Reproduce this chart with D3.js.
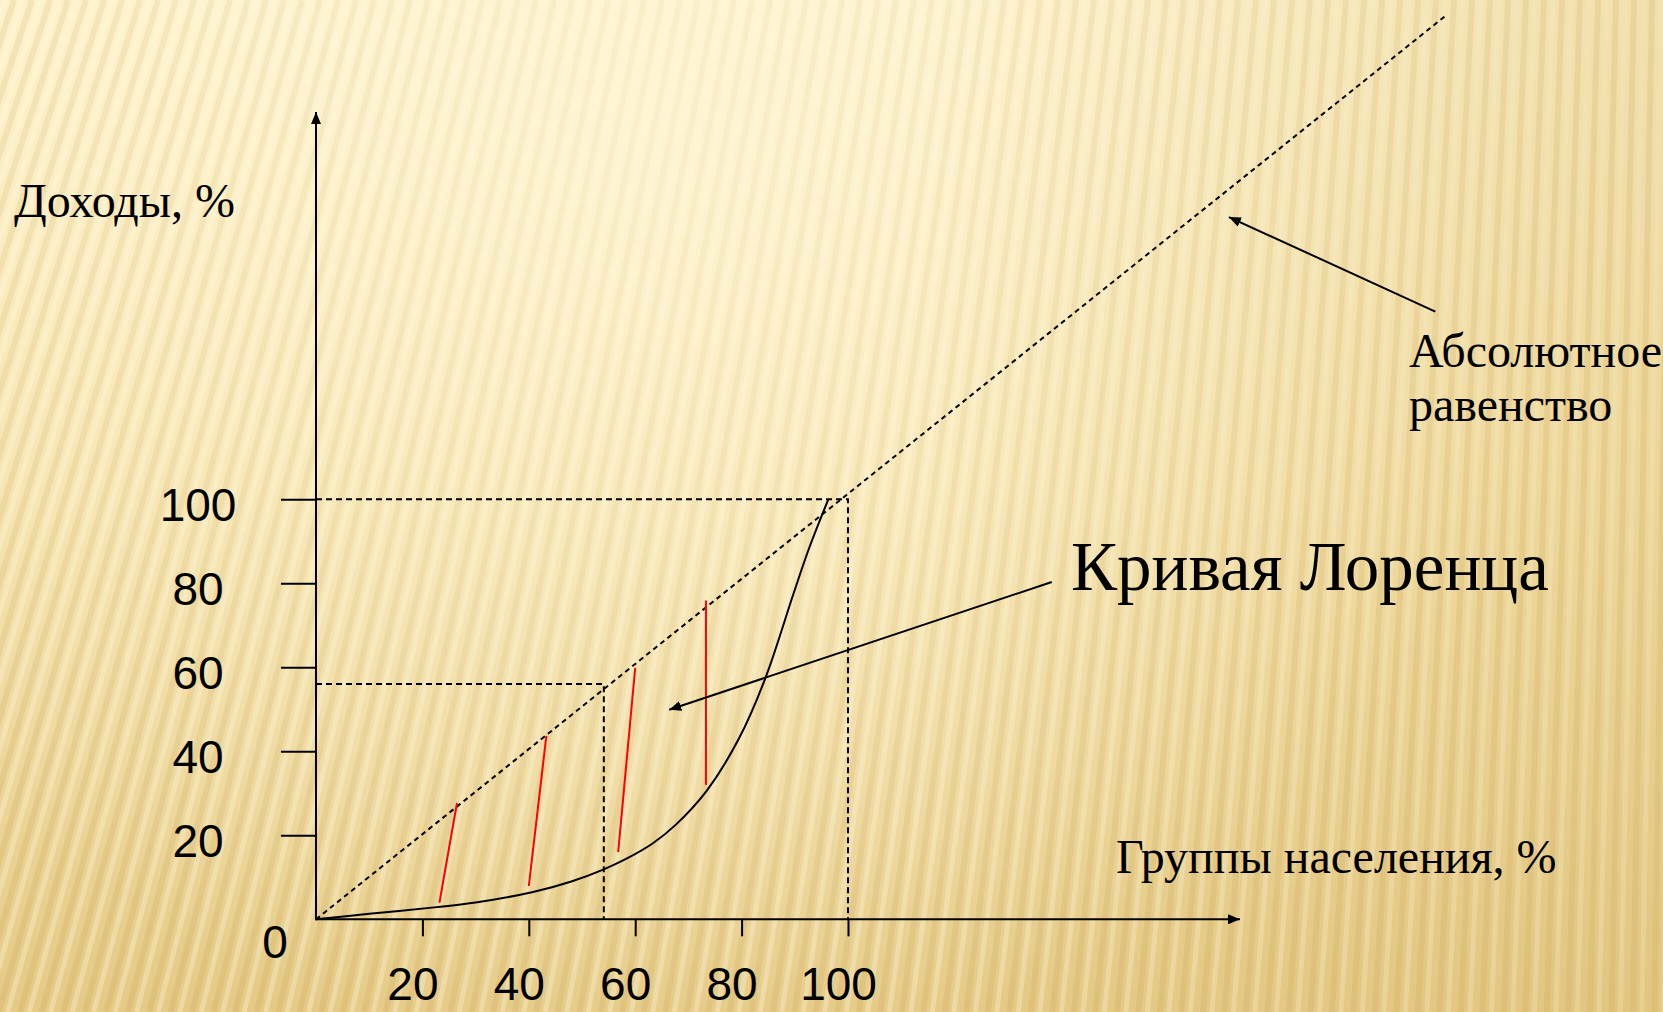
<!DOCTYPE html>
<html>
<head>
<meta charset="utf-8">
<title>Кривая Лоренца</title>
<script src="https://cdn.jsdelivr.net/npm/d3@7"></script>
<style>
html, body { margin: 0; padding: 0; overflow: hidden; background: #f3e2ad; }
#chart { width: 1663px; height: 1012px; }
.serif { font-family: "Liberation Serif", "Times New Roman", serif; fill: #000; }
.num { font-family: "Liberation Sans", Arial, sans-serif; fill: #000; }
</style>
</head>
<body>
<div id="chart"></div>
<script>
// --- data (population %, income %) ---
var xTicks = [20, 40, 60, 80, 100];
var yTicks = [20, 40, 60, 80, 100];
var lorenz = [[0, 0], [10, 1.3], [22.7, 2.9], [30, 4.0], [40.8, 6.5], [48, 9.0],
              [54.1, 11.9], [58, 14.2], [63.2, 18.0], [67.7, 22.6], [73.5, 30.7],
              [79.4, 42.8], [84.4, 57.2], [89.8, 77.7], [92.7, 88.4], [96.3, 100]];
var equality = [[0, 0], [212.7, 215.5]];
var hatches = [[[23.2, 3.95], [26.5, 27.7]],
               [[40.0, 7.9], [43.3, 43.7]],
               [[56.8, 16.0], [60.0, 59.9]],
               [[73.3, 32.0], [73.3, 75.9]]];
var guideTop = [[0, 100], [100, 100], [100, 0]];
var guideMid = [[0, 56], [54.1, 56], [54.1, 0]];
var pointerEquality = [[210.4, 144.7], [171.6, 167.2]];
var pointerLorenz = [[138.3, 80.3], [66.4, 49.9]];

function setUp() {
  var w = 1663, h = 1012;
  var svg = d3.select("#chart").append("svg")
      .attr("width", w)
      .attr("height", h);

  var defs = svg.append("defs");
  var bg = defs.append("linearGradient").attr("id", "bg")
      .attr("x1", 0).attr("y1", 0).attr("x2", 0).attr("y2", 1);
  [[0, "#fcf0c6"], [0.45, "#f6e3ac"], [0.78, "#ecd597"], [1, "#e5ca86"]].forEach(function(s) {
    bg.append("stop").attr("offset", s[0]).attr("stop-color", s[1]);
  });
  var glow = defs.append("radialGradient").attr("id", "glow")
      .attr("gradientUnits", "userSpaceOnUse")
      .attr("cx", 650).attr("cy", 120).attr("r", 950);
  glow.append("stop").attr("offset", 0).attr("stop-color", "#fff7da").attr("stop-opacity", 0.7);
  glow.append("stop").attr("offset", 1).attr("stop-color", "#fff7da").attr("stop-opacity", 0);
  var side = defs.append("linearGradient").attr("id", "side")
      .attr("x1", 0).attr("y1", 0).attr("x2", 1).attr("y2", 0);
  side.append("stop").attr("offset", 0.55).attr("stop-color", "#d8b96f").attr("stop-opacity", 0);
  side.append("stop").attr("offset", 1).attr("stop-color", "#d8b96f").attr("stop-opacity", 0.3);

  var marker = defs.append("marker").attr("id", "arrow")
      .attr("markerUnits", "userSpaceOnUse")
      .attr("viewBox", "0 0 12 10")
      .attr("refX", 12).attr("refY", 5)
      .attr("markerWidth", 12).attr("markerHeight", 10)
      .attr("orient", "auto");
  marker.append("path").attr("d", "M0,0 L12,5 L0,10 Z").attr("fill", "#000");

  // background with slanted stripes
  svg.append("rect").attr("width", w).attr("height", h).attr("fill", "url(#bg)");
  var stripes = svg.append("g");
  d3.range(-400, w + 40, 18).forEach(function(t) {
    var fx = 1750, fy = 5200;            // far-off point the stripes fan out from
    var k = (fx - t) / fy;
    stripes.append("line")
        .attr("x1", t).attr("y1", 0)
        .attr("x2", t - k * h).attr("y2", h)
        .attr("stroke", "#c49a4c").attr("stroke-opacity", 0.2)
        .attr("stroke-width", 6);
    stripes.append("line")
        .attr("x1", t + 9).attr("y1", 0)
        .attr("x2", t + 9 - k * h).attr("y2", h)
        .attr("stroke", "#fffbe6").attr("stroke-opacity", 0.3)
        .attr("stroke-width", 5);
  });
  svg.append("rect").attr("width", w).attr("height", h).attr("fill", "url(#glow)");
  svg.append("rect").attr("width", w).attr("height", h).attr("fill", "url(#side)");

  // scales
  var x = d3.scaleLinear().domain([0, 100]).range([316, 848]);
  var y = d3.scaleLinear().domain([0, 100]).range([919.3, 499.3]);
  var line = d3.line().x(function(d) { return x(d[0]); }).y(function(d) { return y(d[1]); });

  // axes
  var gx = svg.append("g")
      .attr("transform", "translate(0," + y(0) + ")")
      .call(d3.axisBottom(x).tickValues(xTicks).tickSize(17).tickFormat(d3.format("d")));
  gx.select(".domain").remove();
  gx.attr("font-family", null).attr("font-size", null);
  gx.selectAll("line").attr("stroke", "#000").attr("stroke-width", 2);
  gx.selectAll("text")
      .attr("class", "num").attr("font-size", 46).attr("fill", null)
      .attr("x", -10).attr("y", 81).attr("dy", 0);

  var gy = svg.append("g")
      .attr("transform", "translate(" + x(0) + ",0)")
      .call(d3.axisLeft(y).tickValues(yTicks).tickSize(35).tickFormat(d3.format("d")));
  gy.select(".domain").remove();
  gy.attr("font-family", null).attr("font-size", null);
  gy.selectAll("line").attr("stroke", "#000").attr("stroke-width", 2);
  gy.selectAll("text")
      .attr("class", "num").attr("font-size", 46).attr("fill", null)
      .attr("text-anchor", "middle")
      .attr("x", -118).attr("y", 21).attr("dy", 0);

  svg.append("text").attr("class", "num")
      .attr("x", 275).attr("y", 958).attr("font-size", 46)
      .attr("text-anchor", "middle").text("0");

  svg.append("line")
      .attr("x1", x(0)).attr("y1", y(0)).attr("x2", 1240).attr("y2", y(0))
      .attr("stroke", "#000").attr("stroke-width", 2).attr("marker-end", "url(#arrow)");
  svg.append("line")
      .attr("x1", x(0)).attr("y1", y(0) + 1).attr("x2", x(0)).attr("y2", 112)
      .attr("stroke", "#000").attr("stroke-width", 2).attr("marker-end", "url(#arrow)");

  // dashed guides and line of equality
  [guideTop, guideMid].forEach(function(g) {
    svg.append("path").attr("d", line(g))
        .attr("fill", "none").attr("stroke", "#000")
        .attr("stroke-width", 2).attr("stroke-dasharray", "6,4");
  });
  svg.append("path").attr("d", line(equality))
      .attr("fill", "none").attr("stroke", "#000")
      .attr("stroke-width", 2).attr("stroke-dasharray", "5,4");

  // red hatches between the curves
  svg.selectAll(".hatch")
      .data(hatches)
      .enter().append("path")
      .attr("class", "hatch")
      .attr("d", line)
      .attr("fill", "none").attr("stroke", "#ff0000").attr("stroke-width", 2);

  // Lorenz curve
  svg.append("path")
      .attr("d", line.curve(d3.curveCatmullRom.alpha(0.5))(lorenz))
      .attr("fill", "none").attr("stroke", "#000").attr("stroke-width", 2);
  line.curve(d3.curveLinear);

  // pointers
  [pointerEquality, pointerLorenz].forEach(function(p) {
    svg.append("path").attr("d", line(p))
        .attr("fill", "none").attr("stroke", "#000")
        .attr("stroke-width", 2).attr("marker-end", "url(#arrow)");
  });

  // labels
  svg.append("text").attr("class", "serif").attr("font-size", 48)
      .attr("x", 14).attr("y", 217).text("Доходы, %");
  svg.append("text").attr("class", "serif").attr("font-size", 48)
      .attr("x", 1116).attr("y", 873).text("Группы населения, %");
  svg.append("text").attr("class", "serif").attr("font-size", 69)
      .attr("x", 1071).attr("y", 590).text("Кривая Лоренца");
  var eq = svg.append("text").attr("class", "serif").attr("font-size", 48)
      .attr("x", 1409).attr("y", 367);
  eq.append("tspan").attr("x", 1409).text("Абсолютное");
  eq.append("tspan").attr("x", 1409).attr("dy", 54).text("равенство");
}

setUp();
</script>
</body>
</html>
